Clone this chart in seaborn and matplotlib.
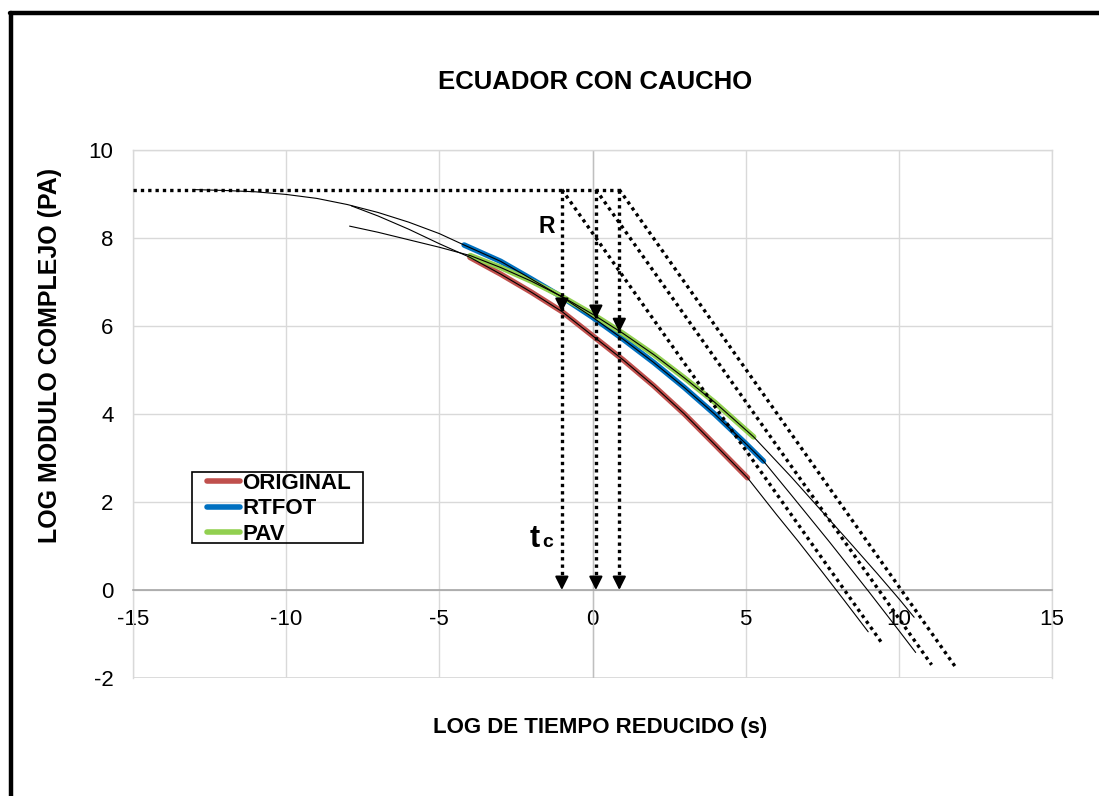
import numpy as np
import pandas as pd
import matplotlib
matplotlib.use("Agg")
import matplotlib.pyplot as plt
from matplotlib.lines import Line2D
from matplotlib.patches import Rectangle
from matplotlib.ticker import MultipleLocator
import seaborn as sns

# measured curves (log reduced time vs log complex modulus)
orig_x = [-4.0, -3.0, -2.0, -1.0, 0.0, 1.0, 2.0, 3.0, 4.0, 5.06]
orig_y = [7.56, 7.18, 6.77, 6.33, 5.78, 5.23, 4.64, 4.00, 3.30, 2.55]
rtfot_x = [-4.19, -3.0, -2.0, -1.0, 0.0, 1.0, 2.0, 3.0, 4.0, 5.0, 5.58]
rtfot_y = [7.84, 7.47, 7.07, 6.66, 6.20, 5.70, 5.17, 4.60, 3.99, 3.33, 2.93]
pav_x = [-3.99, -3.0, -2.0, -1.0, 0.0, 1.0, 2.0, 3.0, 4.0, 5.26]
pav_y = [7.60, 7.33, 7.02, 6.67, 6.27, 5.83, 5.35, 4.82, 4.26, 3.48]

# model fits (thin black lines)
fit_orig_x = [-7.87, -7.0, -6.0, -5.0] + orig_x + [6.0, 6.7, 7.5, 8.2, 9.0]
fit_orig_y = [8.73, 8.50, 8.20, 7.87] + orig_y + [1.72, 1.12, 0.41, -0.22, -0.95]
fit_rtfot_x = [-13.0, -12.0, -11.0, -10.0, -9.0, -8.0, -7.0, -6.0, -5.0] + rtfot_x + [6.5, 7.75, 9.0, 10.0, 10.55]
fit_rtfot_y = [9.10, 9.08, 9.05, 8.99, 8.90, 8.76, 8.58, 8.36, 8.10] + rtfot_y + [2.15, 1.08, -0.02, -0.92, -1.42]
fit_pav_x = [-7.93, -7.0, -6.0, -5.0] + pav_x + [6.5, 7.5, 8.4, 9.3, 10.04, 10.5]
fit_pav_y = [8.27, 8.13, 7.96, 7.79] + pav_y + [2.56, 1.78, 1.08, 0.37, -0.23, -0.62]

# construction lines
plateau_y = 9.1
tc_x = [-1.0, 0.11, 0.875]
tc_hit_y = [6.32, 6.16, 5.86]
asym_end_x = [9.44, 11.07, 11.9]
asym_end_y = [-1.2, -1.7, -1.8]

sns.set_theme(style="white")
plt.rcParams['font.family'] = ['Liberation Sans', 'DejaVu Sans']
plt.rcParams['axes.unicode_minus'] = False
plt.rcParams['text.color'] = 'black'
plt.rcParams['xtick.labelcolor'] = 'black'
plt.rcParams['ytick.labelcolor'] = 'black'

fig = plt.figure(figsize=(10.99, 7.96), dpi=100)
ax = fig.add_axes([133 / 1099, 1 - 678 / 796, 919 / 1099, 528 / 796])

ax.set_xlim(-15, 15)
ax.set_ylim(-2, 10)
ax.set_xticks(range(-15, 16, 5))
ax.set_yticks(range(-2, 11, 2))
ax.xaxis.set_minor_locator(MultipleLocator(1))
ax.grid(True, color="#d9d9d9", lw=1.0)
ax.set_axisbelow(True)
for s in ["top", "right", "left"]:
    ax.spines[s].set_color("#d9d9d9")
    ax.spines[s].set_linewidth(1.0)
ax.spines["bottom"].set_position(("data", 0))
ax.spines["bottom"].set_color("#a6a6a6")
ax.spines["bottom"].set_linewidth(1.2)
ax.axhline(-2, color="#d9d9d9", lw=2.0, zorder=0.5)
ax.axvline(0, color="#bfbfbf", lw=1.0, zorder=0.6)
ax.tick_params(axis="x", which="both", direction="in", length=4, color="#a6a6a6",
               labelsize=16, pad=14)
ax.tick_params(axis="y", length=0, labelsize=16, pad=14)

# colored data curves
df = pd.concat([
    pd.DataFrame({"x": orig_x, "y": orig_y, "serie": "ORIGINAL"}),
    pd.DataFrame({"x": rtfot_x, "y": rtfot_y, "serie": "RTFOT"}),
    pd.DataFrame({"x": pav_x, "y": pav_y, "serie": "PAV"}),
])
palette = {"ORIGINAL": "#c0504d", "RTFOT": "#0070c0", "PAV": "#92d050"}
sns.lineplot(data=df, x="x", y="y", hue="serie", palette=palette, lw=4.0,
             sort=False, estimator=None, ax=ax, solid_capstyle="round")

# thin model fits
for fx, fy in [(fit_orig_x, fit_orig_y), (fit_rtfot_x, fit_rtfot_y), (fit_pav_x, fit_pav_y)]:
    ax.plot(fx, fy, color="black", lw=0.8, zorder=3)

dot = dict(color="black", lw=2.4, linestyle=(0, (1, 1.2)), zorder=4)
ax.plot([-15, 0.95], [plateau_y, plateau_y], **dot)
for xv, yh, xe, ye in zip(tc_x, tc_hit_y, asym_end_x, asym_end_y):
    ax.plot([xv, xv], [plateau_y, 0.15], **dot)
    ax.plot([xv, xe], [plateau_y, ye], **dot)
    for ytip in (yh, 0.0):
        ax.annotate("", xy=(xv, ytip), xytext=(xv, ytip + 0.3),
                    arrowprops=dict(arrowstyle="-|>,head_length=0.8,head_width=0.4",
                                    color="black", lw=1.5, mutation_scale=10,
                                    shrinkA=0, shrinkB=0), zorder=5)

ax.text(-1.5, 8.26, "R", fontsize=16.5, fontweight="bold", ha="center", va="center")
ax.text(-2.04, 0.98, "t", fontsize=22, fontweight="bold", ha="left", va="baseline")
ax.text(-1.65, 0.98, "c", fontsize=14, fontweight="bold", ha="left", va="baseline")

# legend without its own frame, frame drawn as a rectangle
leg = ax.legend(loc="upper left", bbox_to_anchor=((207 - 133) / 919, (678 - 473) / 528),
                prop={"weight": "bold", "size": 16}, handlelength=1.5, handletextpad=0.1,
                labelspacing=0.2, borderpad=0, borderaxespad=0, frameon=False)
for h in leg.get_lines():
    h.set_linewidth(4.0)
ax.add_patch(Rectangle(((192 - 133) / 919, (678 - 543) / 528), 171 / 919, 71 / 528,
                       transform=ax.transAxes, fill=False, edgecolor="black", lw=1.2,
                       zorder=6))

ax.set_xlabel("")
ax.set_ylabel("")
fig.text(595 / 1099, 1 - 82 / 796, "ECUADOR CON CAUCHO", fontsize=18.5, fontweight="bold",
         ha="center", va="center")
fig.text(600 / 1099, 1 - 727 / 796, "LOG DE TIEMPO REDUCIDO (s)", fontsize=16,
         fontweight="bold", ha="center", va="center")
fig.text(50 / 1099, 1 - 355 / 796, "LOG MODULO COMPLEJO (PA)", fontsize=18,
         fontweight="bold", ha="center", va="center", rotation=90)

# outer frame (left and top edges only)
fig.add_artist(Line2D([11 / 1099, 11 / 1099], [0, 1 - 13 / 796], color="black", lw=3.2,
                      transform=fig.transFigure))
fig.add_artist(Line2D([9.5 / 1099, 1], [1 - 13 / 796, 1 - 13 / 796], color="black", lw=3.2,
                      transform=fig.transFigure))

fig.savefig("out.png", dpi=100)
